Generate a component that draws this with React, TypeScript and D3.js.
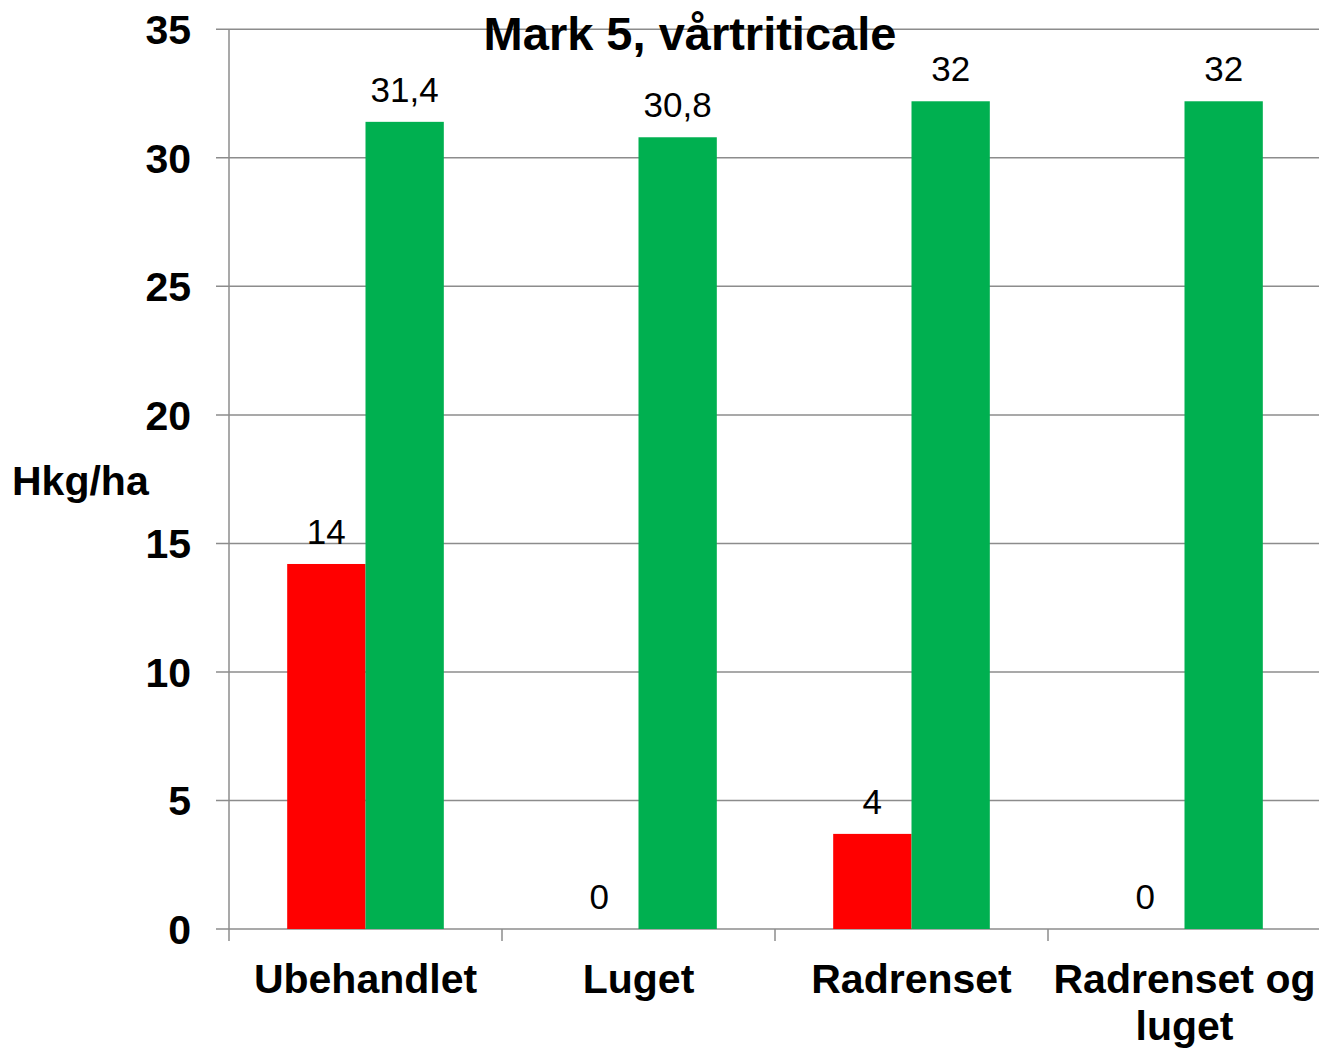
import React, { useEffect, useRef } from 'react';
import * as d3 from 'd3';

// Categories (x axis), second one wrapped on two lines like the original
const categories: string[][] = [
  ['Ubehandlet'],
  ['Luget'],
  ['Radrenset'],
  ['Radrenset og', 'luget'],
];

// Series values
const redValues: number[] = [14.2, 0, 3.7, 0];
const greenValues: number[] = [31.4, 30.8, 32.2, 32.2];

// Data labels as printed on the chart
const redLabels: string[] = ['14', '0', '4', '0'];
const greenLabels: string[] = ['31,4', '30,8', '32', '32'];

const yTicks: number[] = [0, 5, 10, 15, 20, 25, 30, 35];

const title = 'Mark 5, vårtriticale';
const yTitle = 'Hkg/ha';

const App = () => {
  const ref = useRef<SVGSVGElement | null>(null);

  useEffect(() => {
    if (!ref.current) return;
    const svg = d3.select(ref.current);
    svg.selectAll('*').remove();

    const W = 1319, H = 1050;
    const left = 229, right = 1321, top = 29.3, bottom = 929;
    const font = '"Liberation Sans", Arial, sans-serif';
    const grid = '#8c8c8c';

    const names = categories.map(c => c.join(' '));

    const x0 = d3.scaleBand<string>()
      .domain(names)
      .range([left, right])
      .padding(0);

    const x1 = d3.scaleBand<string>()
      .domain(['red', 'green'])
      .range([0, x0.bandwidth()])
      .paddingInner(0)
      .paddingOuter(0.743);

    const y = d3.scaleLinear()
      .domain([0, 35])
      .range([bottom, top]);

    svg.attr('width', W).attr('height', H);

    // horizontal gridlines (with tick stubs left of the axis)
    svg.append('g')
      .selectAll('line')
      .data(yTicks)
      .enter()
      .append('line')
      .attr('x1', left - 13)
      .attr('x2', right)
      .attr('y1', d => y(d))
      .attr('y2', d => y(d))
      .attr('stroke', grid)
      .attr('stroke-width', 1.5);

    // y axis line
    svg.append('line')
      .attr('x1', left).attr('x2', left)
      .attr('y1', top).attr('y2', bottom)
      .attr('stroke', grid)
      .attr('stroke-width', 1.5);

    // x tick marks at category boundaries
    const bounds = names.map(n => x0(n) as number).concat([right]);
    svg.append('g')
      .selectAll('line')
      .data(bounds)
      .enter()
      .append('line')
      .attr('x1', d => d).attr('x2', d => d)
      .attr('y1', bottom).attr('y2', bottom + 12)
      .attr('stroke', grid)
      .attr('stroke-width', 1.5);

    // y tick labels
    svg.append('g')
      .selectAll('text')
      .data(yTicks)
      .enter()
      .append('text')
      .attr('x', 191)
      .attr('y', d => y(d))
      .attr('dy', '0.36em')
      .attr('text-anchor', 'end')
      .attr('font-family', font)
      .attr('font-weight', 'bold')
      .attr('font-size', 41)
      .attr('fill', '#000')
      .text(d => d);

    // bars
    const series = [
      { key: 'red', color: '#FF0000', values: redValues, labels: redLabels },
      { key: 'green', color: '#00B050', values: greenValues, labels: greenLabels },
    ];

    series.forEach(s => {
      const g = svg.append('g');
      g.selectAll('rect')
        .data(s.values)
        .enter()
        .append('rect')
        .attr('x', (d, i) => (x0(names[i]) as number) + (x1(s.key) as number))
        .attr('y', d => y(d))
        .attr('width', x1.bandwidth())
        .attr('height', d => y(0) - y(d))
        .attr('fill', s.color);

      g.selectAll('text')
        .data(s.values)
        .enter()
        .append('text')
        .attr('x', (d, i) => (x0(names[i]) as number) + (x1(s.key) as number) + x1.bandwidth() / 2)
        .attr('y', d => y(d) - 20)
        .attr('text-anchor', 'middle')
        .attr('font-family', font)
        .attr('font-size', 35)
        .attr('fill', '#000')
        .text((d, i) => s.labels[i]);
    });

    // category labels
    const cat = svg.append('g')
      .selectAll('text')
      .data(categories)
      .enter()
      .append('text')
      .attr('x', (d, i) => (x0(names[i]) as number) + x0.bandwidth() / 2)
      .attr('y', 993)
      .attr('text-anchor', 'middle')
      .attr('font-family', font)
      .attr('font-weight', 'bold')
      .attr('font-size', 41)
      .attr('fill', '#000');
    cat.selectAll('tspan')
      .data(d => d)
      .enter()
      .append('tspan')
      .attr('x', function () {
        return (this.parentNode as SVGTextElement).getAttribute('x');
      })
      .attr('dy', (d, i) => (i === 0 ? 0 : 47))
      .text(d => d);

    // y axis title
    svg.append('text')
      .attr('x', 12)
      .attr('y', 495)
      .attr('font-family', font)
      .attr('font-weight', 'bold')
      .attr('font-size', 41)
      .attr('fill', '#000')
      .text(yTitle);

    // chart title
    svg.append('text')
      .attr('x', 690)
      .attr('y', 50)
      .attr('text-anchor', 'middle')
      .attr('font-family', font)
      .attr('font-weight', 'bold')
      .attr('font-size', 47)
      .attr('fill', '#000')
      .text(title);
  }, []);

  return (
    <svg
      ref={ref}
      width={1319}
      height={1050}
      style={{ position: 'absolute', left: 0, top: 0, background: '#fff' }}
    />
  );
};

export default App;
